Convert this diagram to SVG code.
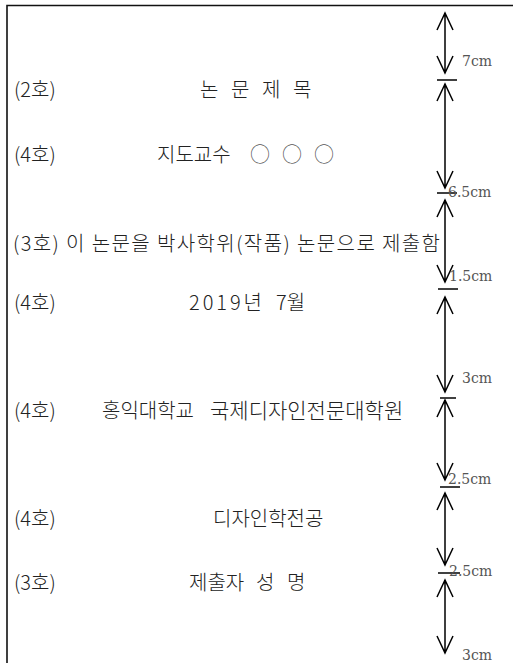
<svg xmlns="http://www.w3.org/2000/svg" width="513" height="663" viewBox="0 0 513 663">
<style>
.t{font-family:"Noto Sans CJK KR","Noto Sans",sans-serif;font-size:20px;font-weight:300;fill:#222}
.c{font-family:"DejaVu Serif","Liberation Serif",serif;font-size:14px;fill:#555}
.fr{stroke:#111;stroke-width:1.6;fill:none}
.ar{stroke:#000;stroke-width:1.5;fill:none}
</style>
<rect width="513" height="663" fill="#fff"/>
<g id="frame">
<path class="fr" d="M7,663 V5.5 H513"/>
</g>
<g id="line-title"><text class="t" x="14" y="97">(2호)</text><text class="t" y="97"><tspan x="200">논</tspan><tspan x="231">문</tspan><tspan x="262">제</tspan><tspan x="293">목</tspan></text></g>
<g id="line-advisor"><text class="t" x="14" y="162">(4호)</text><text class="t" y="162"><tspan x="157">지도교수</tspan><tspan x="250" fill="#555">○</tspan><tspan x="282" fill="#555">○</tspan><tspan x="314" fill="#555">○</tspan></text></g>
<g id="line-submit"><text class="t" x="13" y="251" textLength="427" lengthAdjust="spacing">(3호) 이 논문을 박사학위(작품) 논문으로 제출함</text></g>
<g id="line-date"><text class="t" x="14" y="310">(4호)</text><text class="t" y="310"><tspan x="189" textLength="73">2019년</tspan><tspan x="276">7월</tspan></text></g>
<g id="line-school"><text class="t" x="14" y="418">(4호)</text><text class="t" y="418"><tspan x="102">홍익대학교</tspan><tspan x="210" font-size="21">국제디자인전문대학원</tspan></text></g>
<g id="line-major"><text class="t" x="14" y="526">(4호)</text><text class="t" x="213" y="526">디자인학전공</text></g>
<g id="line-name"><text class="t" x="14" y="590">(3호)</text><text class="t" y="590"><tspan x="189">제출자</tspan><tspan x="256">성</tspan><tspan x="287">명</tspan></text></g>
<g id="connectors">
<path class="ar" d="M445,13 V73 M437,30 L445,13 L453,30 M437,56 L445,73 L453,56"/>
<path class="ar" d="M437,80 H457"/>
<path class="ar" d="M445,84 V188 M437,101 L445,84 L453,101 M437,171 L445,188 L453,171"/>
<path class="ar" d="M437,193 H457"/>
<path class="ar" d="M445,200 V282 M437,217 L445,200 L453,217 M437,265 L445,282 L453,265"/>
<path class="ar" d="M438,289 H458"/>
<path class="ar" d="M445,297 V392 M437,314 L445,297 L453,314 M437,375 L445,392 L453,375"/>
<path class="ar" d="M440,398 H456"/>
<path class="ar" d="M445,400 V480 M437,417 L445,400 L453,417 M437,463 L445,480 L453,463"/>
<path class="ar" d="M440,487 H460"/>
<path class="ar" d="M445,493 V565 M437,510 L445,493 L453,510 M437,548 L445,565 L453,548"/>
<path class="ar" d="M438,573 H460"/>
<path class="ar" d="M445,580 V653 M437,597 L445,580 L453,597 M437,636 L445,653 L453,636"/>
</g>
<g id="labels">
<text class="c" x="462" y="66">7cm</text>
<text class="c" x="448" y="197">6.5cm</text>
<text class="c" x="449" y="281">1.5cm</text>
<text class="c" x="462" y="383">3cm</text>
<text class="c" x="448" y="484">2.5cm</text>
<text class="c" x="449" y="576">2.5cm</text>
<text class="c" x="462" y="660">3cm</text>
</g>
</svg>
